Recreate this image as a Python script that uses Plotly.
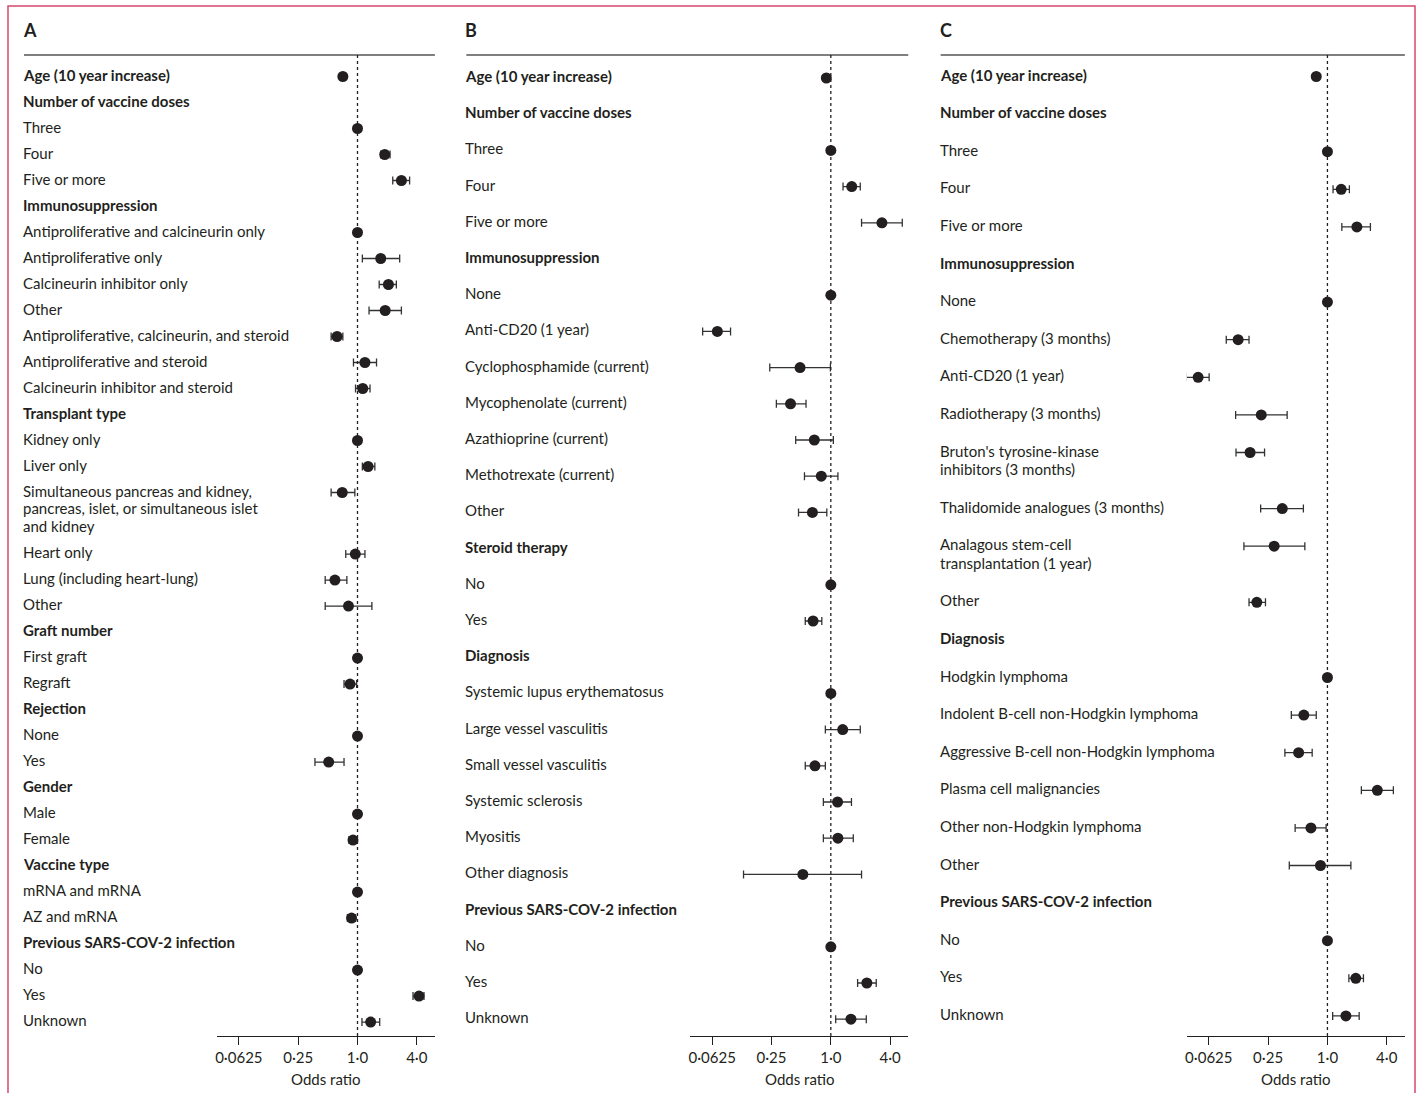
import math
import plotly.graph_objects as go

# ---------------- data ----------------
labels_a = ["Age (10 year increase)", "Number of vaccine doses", "Three", "Four", "Five or more",
            "Immunosuppression", "Antiproliferative and calcineurin only", "Antiproliferative only",
            "Calcineurin inhibitor only", "Other", "Antiproliferative, calcineurin, and steroid",
            "Antiproliferative and steroid", "Calcineurin inhibitor and steroid", "Transplant type",
            "Kidney only", "Liver only",
            "Simultaneous pancreas and kidney,<br>pancreas, islet, or simultaneous islet<br>and kidney",
            "Heart only", "Lung (including heart-lung)", "Other", "Graft number", "First graft", "Regraft",
            "Rejection", "None", "Yes", "Gender", "Male", "Female", "Vaccine type", "mRNA and mRNA",
            "AZ and mRNA", "Previous SARS-COV-2 infection", "No", "Yes", "Unknown"]
bold_a = [0, 1, 5, 13, 20, 23, 26, 29, 32]
or_a = [0.71, None, 1.0, 1.89, 2.79, None, 1.0, 1.72, 2.06, 1.91, 0.62, 1.19, 1.13, None, 1.0, 1.28,
        0.70, 0.95, 0.59, 0.81, None, 1.0, 0.84, None, 1.0, 0.51, None, 1.0, 0.90, None, 1.0, 0.87,
        None, 1.0, 4.21, 1.36]
lo_a = [0.71, None, 1.0, 1.72, 2.28, None, 1.0, 1.12, 1.66, 1.31, 0.54, 0.91, 0.955, None, 1.0, 1.12,
        0.54, 0.76, 0.47, 0.47, None, 1.0, 0.73, None, 1.0, 0.37, None, 1.0, 0.82, None, 1.0, 0.79,
        None, 1.0, 3.66, 1.11]
hi_a = [0.71, None, 1.0, 2.14, 3.38, None, 1.0, 2.68, 2.48, 2.79, 0.71, 1.56, 1.34, None, 1.0, 1.50,
        0.94, 1.19, 0.78, 1.40, None, 1.0, 0.98, None, 1.0, 0.73, None, 1.0, 0.98, None, 1.0, 0.955,
        None, 1.0, 4.73, 1.68]

labels_b = ["Age (10 year increase)", "Number of vaccine doses", "Three", "Four", "Five or more",
            "Immunosuppression", "None", "Anti-CD20 (1 year)", "Cyclophosphamide (current)",
            "Mycophenolate (current)", "Azathioprine (current)", "Methotrexate (current)", "Other",
            "Steroid therapy", "No", "Yes", "Diagnosis", "Systemic lupus erythematosus",
            "Large vessel vasculitis", "Small vessel vasculitis", "Systemic sclerosis", "Myositis",
            "Other diagnosis", "Previous SARS-COV-2 infection", "No", "Yes", "Unknown"]
bold_b = [0, 1, 5, 13, 16, 23]
or_b = [0.90, None, 1.0, 1.63, 3.30, None, 1.0, 0.0705, 0.487, 0.39, 0.68, 0.80, 0.65, None, 1.0,
        0.66, None, 1.0, 1.32, 0.69, 1.17, 1.18, 0.52, None, 1.0, 2.32, 1.60]
lo_b = [0.90, None, 1.0, 1.33, 2.05, None, 1.0, 0.050, 0.24, 0.28, 0.44, 0.54, 0.47, None, 1.0,
        0.55, None, 1.0, 0.88, 0.55, 0.84, 0.84, 0.13, None, 1.0, 1.87, 1.12]
hi_b = [0.90, None, 1.0, 1.99, 5.31, None, 1.0, 0.096, 0.99, 0.56, 1.06, 1.18, 0.91, None, 1.0,
        0.81, None, 1.0, 1.99, 0.88, 1.62, 1.69, 2.05, None, 1.0, 2.89, 2.29]

labels_c = ["Age (10 year increase)", "Number of vaccine doses", "Three", "Four", "Five or more",
            "Immunosuppression", "None", "Chemotherapy (3 months)", "Anti-CD20 (1 year)",
            "Radiotherapy (3 months)", "Bruton's tyrosine-kinase<br>inhibitors (3 months)",
            "Thalidomide analogues (3 months)", "Analagous stem-cell<br>transplantation (1 year)",
            "Other", "Diagnosis", "Hodgkin lymphoma", "Indolent B-cell non-Hodgkin lymphoma",
            "Aggressive B-cell non-Hodgkin lymphoma", "Plasma cell malignancies",
            "Other non-Hodgkin lymphoma", "Other", "Previous SARS-COV-2 infection", "No", "Yes", "Unknown"]
bold_c = [0, 1, 5, 14, 21]
or_c = [0.77, None, 1.0, 1.38, 1.99, None, 1.0, 0.124, 0.0487, 0.213, 0.164, 0.348, 0.288, 0.192,
        None, 1.0, 0.576, 0.51, 3.21, 0.68, 0.85, None, 1.0, 1.94, 1.54]
lo_c = [0.77, None, 1.0, 1.14, 1.40, None, 1.0, 0.094, 0.037, 0.117, 0.118, 0.21, 0.142, 0.16,
        None, 1.0, 0.43, 0.37, 2.21, 0.47, 0.41, None, 1.0, 1.65, 1.13]
hi_c = [0.77, None, 1.0, 1.67, 2.73, None, 1.0, 0.16, 0.063, 0.39, 0.23, 0.57, 0.59, 0.235,
        None, 1.0, 0.77, 0.70, 4.67, 0.97, 1.73, None, 1.0, 2.32, 2.10]

tick_vals = [0.0625, 0.25, 1.0, 4.0]
tick_text = ["0·0625", "0·25", "1·0", "4·0"]
panel_letters = ["A", "B", "C"]

# ---------------- layout constants ----------------
W, H = 1424, 1093
INK = "#231f20"
FONT = "Lato"
FS = 15
PX_PER_LOG2 = 29.7
LOG2_MIN, LOG2_MAX = -4.74, 2.61
TOP_Y, AXIS_Y = 55, 1036
TEXT_XSHIFT = -3
TEXT_YSHIFT = 2

panels = [
    dict(labels=labels_a, bold=bold_a, OR=or_a, lo=lo_a, hi=hi_a, label_x=22, one_x=356.0,
         first=76.5, step=26.0, extra=17.8),
    dict(labels=labels_b, bold=bold_b, OR=or_b, lo=lo_b, hi=hi_b, label_x=465, one_x=830.0,
         first=78.0, step=36.2, extra=18.0),
    dict(labels=labels_c, bold=bold_c, OR=or_c, lo=lo_c, hi=hi_c, label_x=940, one_x=1327.3,
         first=76.5, step=37.6, extra=18.5),
]


def px_x(x):
    return x / W


def px_y(y):
    return 1 - y / H


fig = go.Figure()
annotations = []
shapes = []

for i, p in enumerate(panels):
    n = i + 1
    xa = "x" if n == 1 else f"x{n}"
    ya = "y" if n == 1 else f"y{n}"
    x0 = p["one_x"] + LOG2_MIN * PX_PER_LOG2
    x1 = p["one_x"] + LOG2_MAX * PX_PER_LOG2

    # row positions from label line counts
    ys = []
    extra_lines = 0
    for k, lab in enumerate(p["labels"]):
        ys.append(p["first"] + p["step"] * k + p["extra"] * extra_lines)
        extra_lines += lab.count("<br>")

    xs, yy, ep, em = [], [], [], []
    for k in range(len(p["labels"])):
        if p["OR"][k] is None:
            continue
        xs.append(p["OR"][k])
        yy.append(ys[k])
        ep.append(p["hi"][k] - p["OR"][k])
        em.append(p["OR"][k] - p["lo"][k])

    fig.add_trace(go.Scatter(
        x=xs, y=yy, mode="markers", xaxis=xa, yaxis=ya, showlegend=False,
        marker=dict(size=11, color=INK),
        error_x=dict(type="data", symmetric=False, array=ep, arrayminus=em,
                     color="#333333", thickness=1.3, width=4),
        hoverinfo="skip",
    ))

    axis_key_x = "xaxis" if n == 1 else f"xaxis{n}"
    axis_key_y = "yaxis" if n == 1 else f"yaxis{n}"
    fig.update_layout(**{
        axis_key_x: dict(
            type="log", domain=[px_x(x0), px_x(x1)],
            range=[LOG2_MIN * math.log10(2), LOG2_MAX * math.log10(2)],
            anchor=ya, tickvals=tick_vals, ticktext=tick_text,
            ticks="outside", ticklen=8, tickwidth=1.3, tickcolor=INK,
            showline=True, linecolor=INK, linewidth=1.3, showgrid=False, zeroline=False,
            tickfont=dict(family=FONT, size=FS, color=INK), fixedrange=True,
        ),
        axis_key_y: dict(
            domain=[px_y(AXIS_Y), px_y(TOP_Y)], range=[AXIS_Y, TOP_Y], anchor=xa,
            showticklabels=False, showgrid=False, zeroline=False, showline=False,
            ticks="", fixedrange=True,
        ),
    })

    # labels (multi-line labels drawn line by line for tight leading)
    for k, lab in enumerate(p["labels"]):
        for j, line in enumerate(lab.split("<br>")):
            txt = f"<b>{line}</b>" if k in p["bold"] else line
            annotations.append(dict(
                text=txt, xref="paper", yref=ya, x=px_x(p["label_x"]),
                y=ys[k] + j * p["extra"],
                xanchor="left", yanchor="middle", xshift=TEXT_XSHIFT, yshift=TEXT_YSHIFT,
                align="left", showarrow=False,
                font=dict(family=FONT, size=FS, color=INK),
            ))

    # panel letter
    annotations.append(dict(
        text=f"<b>{panel_letters[i]}</b>", xref="paper", yref="paper",
        x=px_x(p["label_x"]), y=px_y(30), xanchor="left", yanchor="middle",
        xshift=TEXT_XSHIFT, showarrow=False, font=dict(family=FONT, size=18, color=INK),
    ))
    # axis title
    annotations.append(dict(
        text="Odds ratio", xref="paper", yref="paper",
        x=px_x((x0 + x1) / 2), y=px_y(1079), xanchor="center", yanchor="middle",
        showarrow=False, font=dict(family=FONT, size=FS, color=INK),
    ))
    # top rule
    shapes.append(dict(type="line", xref="paper", yref="paper",
                       x0=px_x(p["label_x"]), x1=px_x(x1), y0=px_y(TOP_Y), y1=px_y(TOP_Y),
                       line=dict(color="#555555", width=1.6)))
    # reference dashed line at OR = 1
    shapes.append(dict(type="line", xref=xa, yref=ya, x0=1, x1=1, y0=TOP_Y, y1=AXIS_Y,
                       line=dict(color=INK, width=1.3, dash="3px,3px")))

# outer pink frame
shapes.append(dict(type="rect", xref="paper", yref="paper",
                   x0=px_x(6), x1=px_x(1415), y0=px_y(1100), y1=px_y(6),
                   line=dict(color="#d6486f", width=1.5)))

fig.update_layout(
    width=W, height=H, margin=dict(l=0, r=0, t=0, b=0),
    paper_bgcolor="white", plot_bgcolor="rgba(0,0,0,0)",
    annotations=annotations, shapes=shapes,
    font=dict(family=FONT, size=FS, color=INK),
)

fig.write_html("out.html", post_script="document.body.style.margin='0px';",
               config={"displayModeBar": False})
